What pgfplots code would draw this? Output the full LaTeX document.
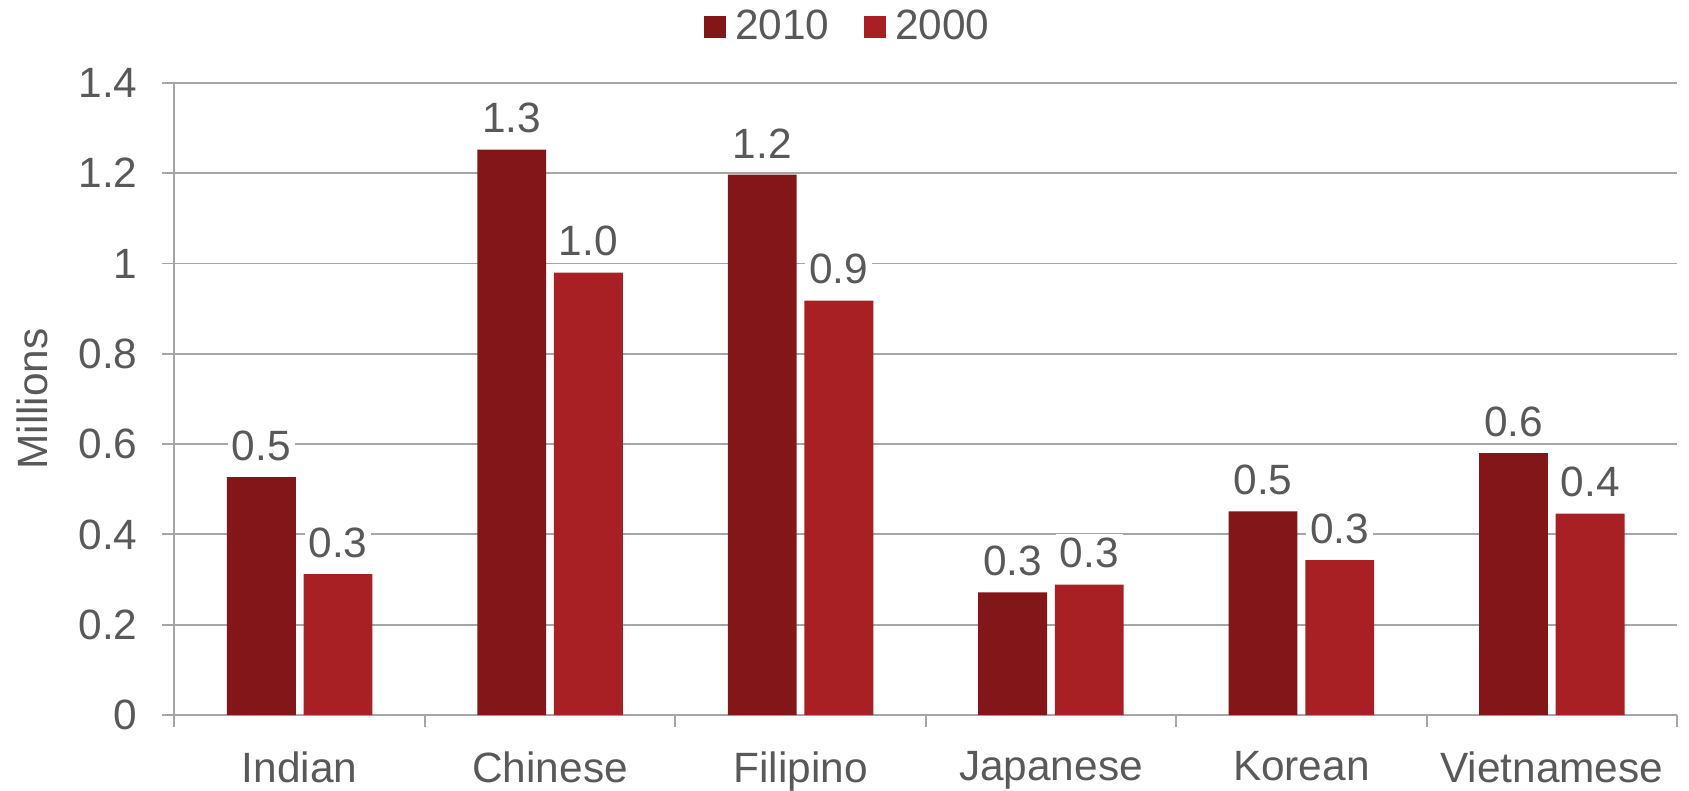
\documentclass[border=0pt]{standalone}
\usepackage{fontspec}
\setmainfont{Liberation Sans}
\usepackage{pgfplots}
\pgfplotsset{compat=1.18}
\definecolor{darkred}{HTML}{831619}
\definecolor{midred}{HTML}{A81F24}
\definecolor{txt}{HTML}{595959}
\definecolor{gridc}{HTML}{A6A6A6}
\begin{document}
\begin{tikzpicture}
\begin{axis}[
 scale only axis, width=751.5pt, height=316.2pt,
 xmin=-0.5, xmax=5.5, ymin=0, ymax=1.4,
 ytick={0,0.2,0.4,0.6,0.8,1,1.2,1.4},
 xtick={0,1,2,3,4,5},
 xticklabels={Indian,Chinese,Filipino,Japanese,Korean,Vietnamese},
 minor xtick={-0.5,0.5,1.5,2.5,3.5,4.5,5.5},
 major x tick style={draw=none},
 tick align=outside,
 major tick length=6pt, minor tick length=6pt,
 tick style={gridc, line width=1pt},
 axis x line*=bottom, axis y line*=left,
 axis line style={gridc, line width=1pt, -},
 ymajorgrids, major grid style={gridc, line width=1pt},
 font=\fontsize{21.2}{25}\selectfont,
 tick label style={txt, font=\fontsize{21.2}{25}\selectfont},
 xticklabel style={inner sep=0pt, yshift=-12pt},
 yticklabel style={inner sep=0pt, xshift=-12.25pt},
 /pgf/number format/assume math mode=true,
 ylabel={Millions},
 every axis y label/.style={at={(rel axis cs:0,0.5)}, xshift=-71.25pt, rotate=90, anchor=center, txt, font=\fontsize{21.2}{25}\selectfont},
 ybar, bar width=0.275,
 legend style={at={(0.4505,1.089)}, anchor=center, draw=none, fill=none, legend columns=2,
   /tikz/every even column/.append style={column sep=12.5pt}, text=txt,
   font=\fontsize{21.2}{25}\selectfont, inner sep=0pt, nodes={inner sep=4.7pt}},
 legend image code/.code={\fill[#1] (0pt,-5.5pt) rectangle (11pt,5.5pt);},
 nodes near coords={\pgfmathprintnumber[fixed,fixed zerofill,precision=1]{\pgfplotspointmeta}},
 every node near coord/.append style={txt, fill=white, inner sep=2pt, yshift=6pt, font=\fontsize{21.2}{25}\selectfont},
 clip=false,
]
\addplot[fill=darkred, draw=none, bar shift=-0.153] coordinates {(0,0.527) (1,1.252) (2,1.197) (3,0.272) (4,0.451) (5,0.580)};
\addlegendentry{2010}
\addplot[fill=midred, draw=none, bar shift=0.153] coordinates {(0,0.312) (1,0.980) (2,0.918) (3,0.289) (4,0.343) (5,0.446)};
\addlegendentry{2000}
\end{axis}
\path ([xshift=-87.25pt,yshift=-37.85pt]current axis.south west) rectangle ([xshift=6pt,yshift=41.45pt]current axis.north east);
\end{tikzpicture}
\end{document}
